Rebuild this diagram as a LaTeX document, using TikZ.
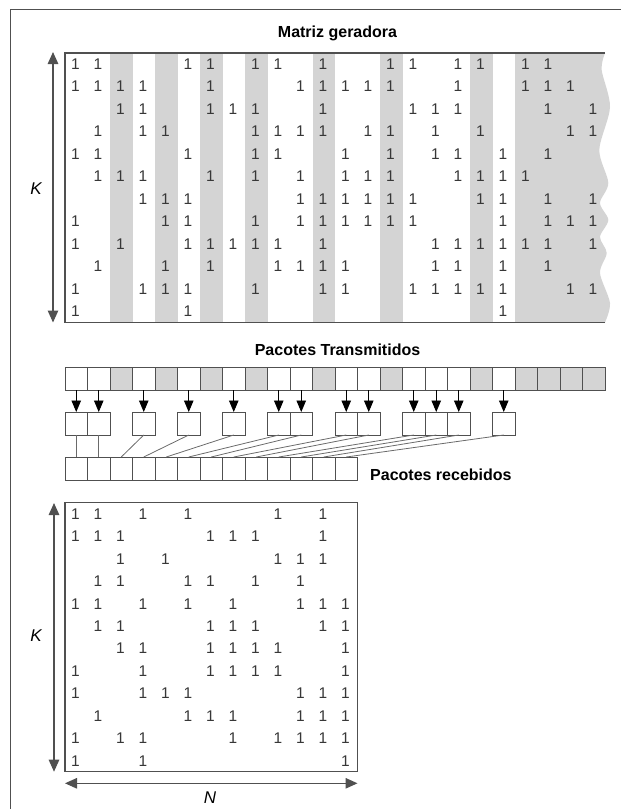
\documentclass[tikz,border=0pt]{standalone}
\usepackage{fontspec}
\setmainfont{Liberation Sans}
\usetikzlibrary{arrows.meta}
\definecolor{bandgray}{RGB}{212,212,212}
\definecolor{linegray}{RGB}{80,80,80}
\definecolor{digitgray}{RGB}{55,55,55}
\begin{document}
\begin{tikzpicture}[x=1pt,y=-1pt,
  pkt/.style={draw=linegray, line width=1pt, minimum width=22.5pt, minimum height=23pt, inner sep=0pt, outer sep=0pt},
  graypkt/.style={pkt, fill=bandgray},
  one/.style={font=\fontsize{15.5}{15.5}\selectfont, text=digitgray, inner sep=0pt},
  title/.style={font=\fontsize{16}{16}\selectfont\bfseries, text=black, inner sep=0pt},
  dimarrow/.style={draw=linegray, line width=1.2pt, {Triangle[length=12pt,width=10.5pt]}-{Triangle[length=12pt,width=10.5pt]}},
  feed/.style={draw=black, line width=0.9pt, -{Triangle[length=11.5pt,width=9.5pt]}},
  link/.style={draw=linegray!85, line width=0.8pt},
  frame/.style={draw=linegray, line width=1.3pt},
  dimlabel/.style={font=\fontsize{17}{17}\selectfont\itshape, inner sep=0pt}
]
\useasboundingbox (0,0) rectangle (621,809);
% outer frame
\draw[draw=linegray, line width=1.2pt] (10.5,815) -- (10.5,9.3) -- (630,9.3);

% ---------- generator matrix ----------
\node[title, anchor=base] (tmat) at (337.5,37.5) {Matriz geradora};
\foreach \c in {2,4,6,8,11,14,18}
  \fill[bandgray] ({65+22.5*\c},53) rectangle ({65+22.5*(\c+1)},322.5);
\fill[bandgray] (515,53) -- (605,53) -- plot[smooth] coordinates {(605,53) (601.7,70) (610,107) (599.3,150) (608.3,183) (600,203) (608.3,220) (600,237) (606.7,253) (600,273) (610,303) (605,322.5)} -- (515,322.5) -- cycle;
\draw[frame] (605,53) -- (65,53) -- (65,322.5) -- (605,322.5);
\foreach \r/\cols in {
  0/{0,1,5,6,8,9,11,14,15,17,18,20,21},
  1/{0,1,2,3,6,10,11,12,13,14,17,20,21,22},
  2/{2,3,6,7,8,11,15,16,17,21,23},
  3/{1,3,4,8,9,10,11,13,14,16,18,22,23},
  4/{0,1,5,8,9,12,14,16,17,19,21},
  5/{1,2,3,6,8,10,12,13,14,17,18,19,20},
  6/{3,4,5,10,11,12,13,14,15,18,19,21,23},
  7/{0,4,5,8,10,11,12,13,14,15,19,21,22,23},
  8/{0,2,5,6,7,8,9,11,16,17,18,19,20,21,23},
  9/{1,4,6,9,10,11,12,16,17,19,21},
  10/{0,3,4,5,8,11,12,15,16,17,18,19,22,23},
  11/{0,5,19}}
  {\foreach \c in \cols {\node[one] (g-\r-\c) at ({75.5+22.5*\c},{64.2+22.46*\r}) {1};}}
\coordinate (kt1) at (53,52);
\coordinate (kb1) at (53,322.5);
\draw[dimarrow] (kt1) -- (kb1);
\node[dimlabel] (K1) at (36,189) {K};

% ---------- packets ----------
\node[title, anchor=base] (tpk) at (337.5,355.5) {Pacotes Transmitidos};
\foreach \c in {0,1,3,5,7,9,10,12,13,15,16,17,19}
  \node[pkt] (t\c) at ({76.25+22.5*\c},378.5) {};
\foreach \c in {2,4,6,8,11,14,18,20,21,22,23}
  \node[graypkt] (t\c) at ({76.25+22.5*\c},378.5) {};
\foreach \c [count=\j from 0] in {0,1,3,5,7,9,10,12,13,15,16,17,19} {
  \node[pkt] (m\j) at ({76.25+22.5*\c},423.5) {};
  \node[pkt] (r\j) at ({76.25+22.5*\j},468.5) {};
}
\foreach \c [count=\j from 0] in {0,1,3,5,7,9,10,12,13,15,16,17,19} {
  \draw[feed] (t\c.south) -- (m\j.north);
  \draw[link] (m\j.south) -- (r\j.north);
}
\node[title, anchor=base west] (rpk) at (370,480) {Pacotes recebidos};

% ---------- received matrix ----------
\draw[frame] (65,502.7) rectangle (357.5,771.7);
\foreach \r/\cols in {
  0/{0,1,3,5,9,11},
  1/{0,1,2,6,7,8,11},
  2/{2,4,9,10,11},
  3/{1,2,5,6,8,10},
  4/{0,1,3,5,7,10,11,12},
  5/{1,2,6,7,8,11,12},
  6/{2,3,6,7,8,9,12},
  7/{0,3,6,7,8,9,12},
  8/{0,3,4,5,10,11,12},
  9/{1,5,6,7,10,11,12},
  10/{0,2,3,7,9,10,11,12},
  11/{0,3,12}}
  {\foreach \c in \cols {\node[one] (h-\r-\c) at ({75.5+22.5*\c},{513.9+22.45*\r}) {1};}}
\coordinate (kt2) at (54,503);
\coordinate (kb2) at (54,771.7);
\draw[dimarrow] (kt2) -- (kb2);
\node[dimlabel] (K2) at (36,636) {K};
\coordinate (nl) at (65,783.3);
\coordinate (nr) at (357.5,783.3);
\draw[dimarrow] (nl) -- (nr);
\node[dimlabel] (N) at (210,798) {N};
\end{tikzpicture}
\end{document}
